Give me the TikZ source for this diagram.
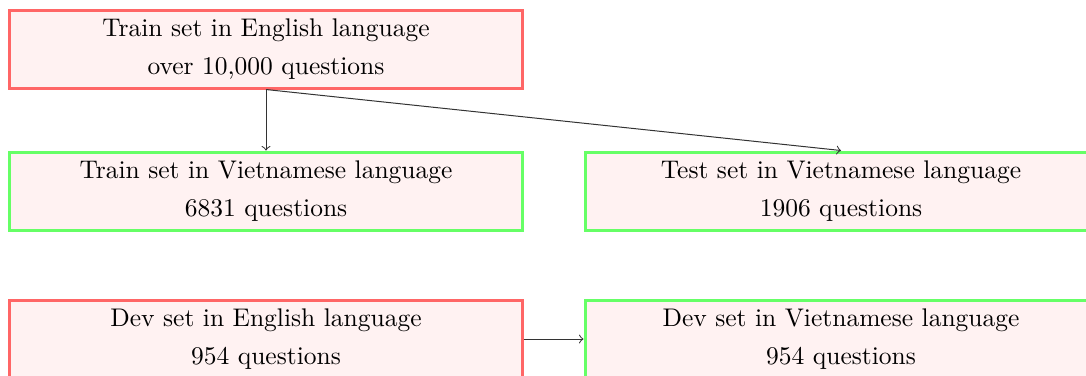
\documentclass[tikz,border=0pt]{standalone}
\begin{document}
\begin{tikzpicture}[x=0.4pt,y=-0.4pt,
  box/.style={draw, line width=1.2pt, fill=red!5, minimum width=204.8pt, minimum height=31.2pt,
    align=center, inner sep=0pt, font=\fontsize{10.2}{12.2}\selectfont},
  srcbox/.style={box, draw=red!60},
  dstbox/.style={box, draw=green!60},
  link/.style={->, line width=0.4pt, black!80}]
\useasboundingbox (0,0) rectangle (1086,375);
\node[srcbox] (trainEn) at (266,49) {Train set in English language\\[3pt]over 10,000 questions};
\node[dstbox] (trainVi) at (266,191) {Train set in Vietnamese language\\[3pt]6831 questions};
\node[dstbox] (testVi) at (841,191) {Test set in Vietnamese language\\[3pt]1906 questions};
\node[srcbox] (devEn) at (266,339) {Dev set in English language\\[3pt]954 questions};
\node[dstbox] (devVi) at (841,339) {Dev set in Vietnamese language\\[3pt]954 questions};
\draw[link] (trainEn.south) -- (trainVi.north);
\draw[link] (trainEn.south) -- (testVi.north);
\draw[link] (devEn.east) -- (devVi.west);
\end{tikzpicture}
\end{document}
